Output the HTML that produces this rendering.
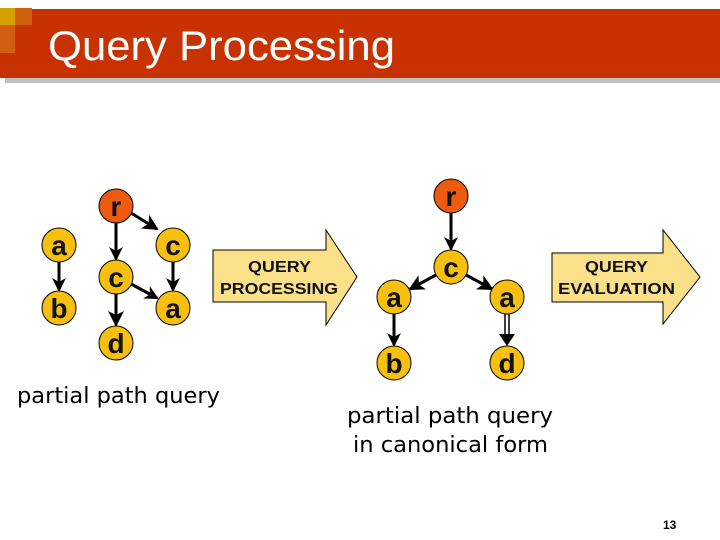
<!DOCTYPE html>
<html><head><meta charset="utf-8"><style>
html,body{margin:0;padding:0;background:#fff;}
svg{display:block;}
</style></head><body>
<svg width="720" height="540" viewBox="0 0 720 540" xmlns="http://www.w3.org/2000/svg">
<defs>
<marker id="ah" markerWidth="14" markerHeight="14" refX="12" refY="7" orient="auto" markerUnits="userSpaceOnUse">
<path d="M0,0 L14,7 L0,14 L4,7 z" fill="#000"/>
</marker>
<marker id="ah2" markerWidth="16" markerHeight="16" refX="14" refY="8" orient="auto" markerUnits="userSpaceOnUse">
<path d="M0,0 L16,8 L0,16 L4,8 z" fill="#000"/>
</marker>
</defs>
<rect x="5" y="78" width="715" height="5" fill="#c0c0c0"/>
<rect x="0" y="9" width="720" height="69" fill="#c83200"/>
<rect x="0" y="8" width="15" height="17" fill="#d4a000"/>
<rect x="15" y="8" width="17" height="17" fill="#d06010"/>
<rect x="0" y="25" width="15" height="28" fill="#d06010"/>
<text x="48" y="60" font-family="Liberation Sans, sans-serif" font-size="42" fill="#fff" textLength="347" lengthAdjust="spacingAndGlyphs">Query Processing</text>

<g stroke="#000" stroke-width="3" fill="none">
<line x1="59" y1="262" x2="59" y2="290" marker-end="url(#ah)"/>
<line x1="116" y1="223" x2="116" y2="259" marker-end="url(#ah)"/>
<line x1="131" y1="213" x2="157" y2="229" marker-end="url(#ah2)"/>
<line x1="173" y1="262" x2="173" y2="290" marker-end="url(#ah)"/>
<line x1="131" y1="284" x2="157" y2="298" marker-end="url(#ah)"/>
<line x1="116" y1="294" x2="116" y2="325" marker-end="url(#ah2)"/>
<line x1="451" y1="213" x2="451" y2="249" marker-end="url(#ah)"/>
<line x1="436" y1="275" x2="410" y2="289" marker-end="url(#ah2)"/>
<line x1="466" y1="275" x2="492" y2="289" marker-end="url(#ah2)"/>
<line x1="394" y1="314" x2="394" y2="345" marker-end="url(#ah)"/>
</g>
<g stroke="#000" stroke-width="1.5">
<line x1="505" y1="314" x2="505" y2="336"/>
<line x1="509" y1="314" x2="509" y2="336"/>
</g>
<path d="M499,334 L515,334 L507,346 z" fill="#000"/>

<g stroke="#000" stroke-width="1" fill="#f7c010">
<circle cx="59" cy="245" r="17"/>
<circle cx="59" cy="308" r="17"/>
<circle cx="116" cy="206" r="17" fill="#ee5a10"/>
<circle cx="116" cy="277" r="17"/>
<circle cx="116" cy="343" r="17"/>
<circle cx="173" cy="245" r="17"/>
<circle cx="173" cy="308" r="17"/>
<circle cx="451" cy="196" r="17" fill="#ee5a10"/>
<circle cx="451" cy="267" r="17"/>
<circle cx="394" cy="297" r="17"/>
<circle cx="507" cy="297" r="17"/>
<circle cx="394" cy="363" r="17"/>
<circle cx="507" cy="363" r="17"/>
</g>
<g font-family="Liberation Sans, sans-serif" font-weight="bold" font-size="28" text-anchor="middle" fill="#111">
<text x="59" y="255">a</text>
<text x="59" y="318">b</text>
<text x="116" y="216">r</text>
<text x="116" y="287">c</text>
<text x="116" y="353">d</text>
<text x="173" y="255">c</text>
<text x="173" y="318">a</text>
<text x="451" y="206">r</text>
<text x="451" y="277">c</text>
<text x="394" y="307">a</text>
<text x="507" y="307">a</text>
<text x="394" y="373">b</text>
<text x="507" y="373">d</text>
</g>

<path d="M213,250 L326,250 L326,230 L357,277 L326,325 L326,302 L213,302 z" fill="#fbe08a" stroke="#000" stroke-width="1"/>
<path d="M552,253 L663,253 L663,230 L700,277 L663,324 L663,302 L552,302 z" fill="#fbe08a" stroke="#000" stroke-width="1"/>
<g font-family="Liberation Sans, sans-serif" font-weight="bold" font-size="16" fill="#111">
<text x="248" y="272" textLength="63" lengthAdjust="spacingAndGlyphs">QUERY</text>
<text x="220" y="294" textLength="118" lengthAdjust="spacingAndGlyphs">PROCESSING</text>
<text x="585" y="272" textLength="63" lengthAdjust="spacingAndGlyphs">QUERY</text>
<text x="558" y="294" textLength="117" lengthAdjust="spacingAndGlyphs">EVALUATION</text>
</g>

<g font-family="DejaVu Sans, sans-serif" font-size="22" fill="#000">
<text x="17" y="403" textLength="203" lengthAdjust="spacingAndGlyphs">partial path query</text>
<text x="347" y="423" textLength="206" lengthAdjust="spacingAndGlyphs">partial path query</text>
<text x="353" y="452" textLength="195" lengthAdjust="spacingAndGlyphs">in canonical form</text>
</g>
<text x="663" y="529" font-family="Liberation Sans, sans-serif" font-weight="bold" font-size="12" fill="#000">13</text>
</svg>
</body></html>
